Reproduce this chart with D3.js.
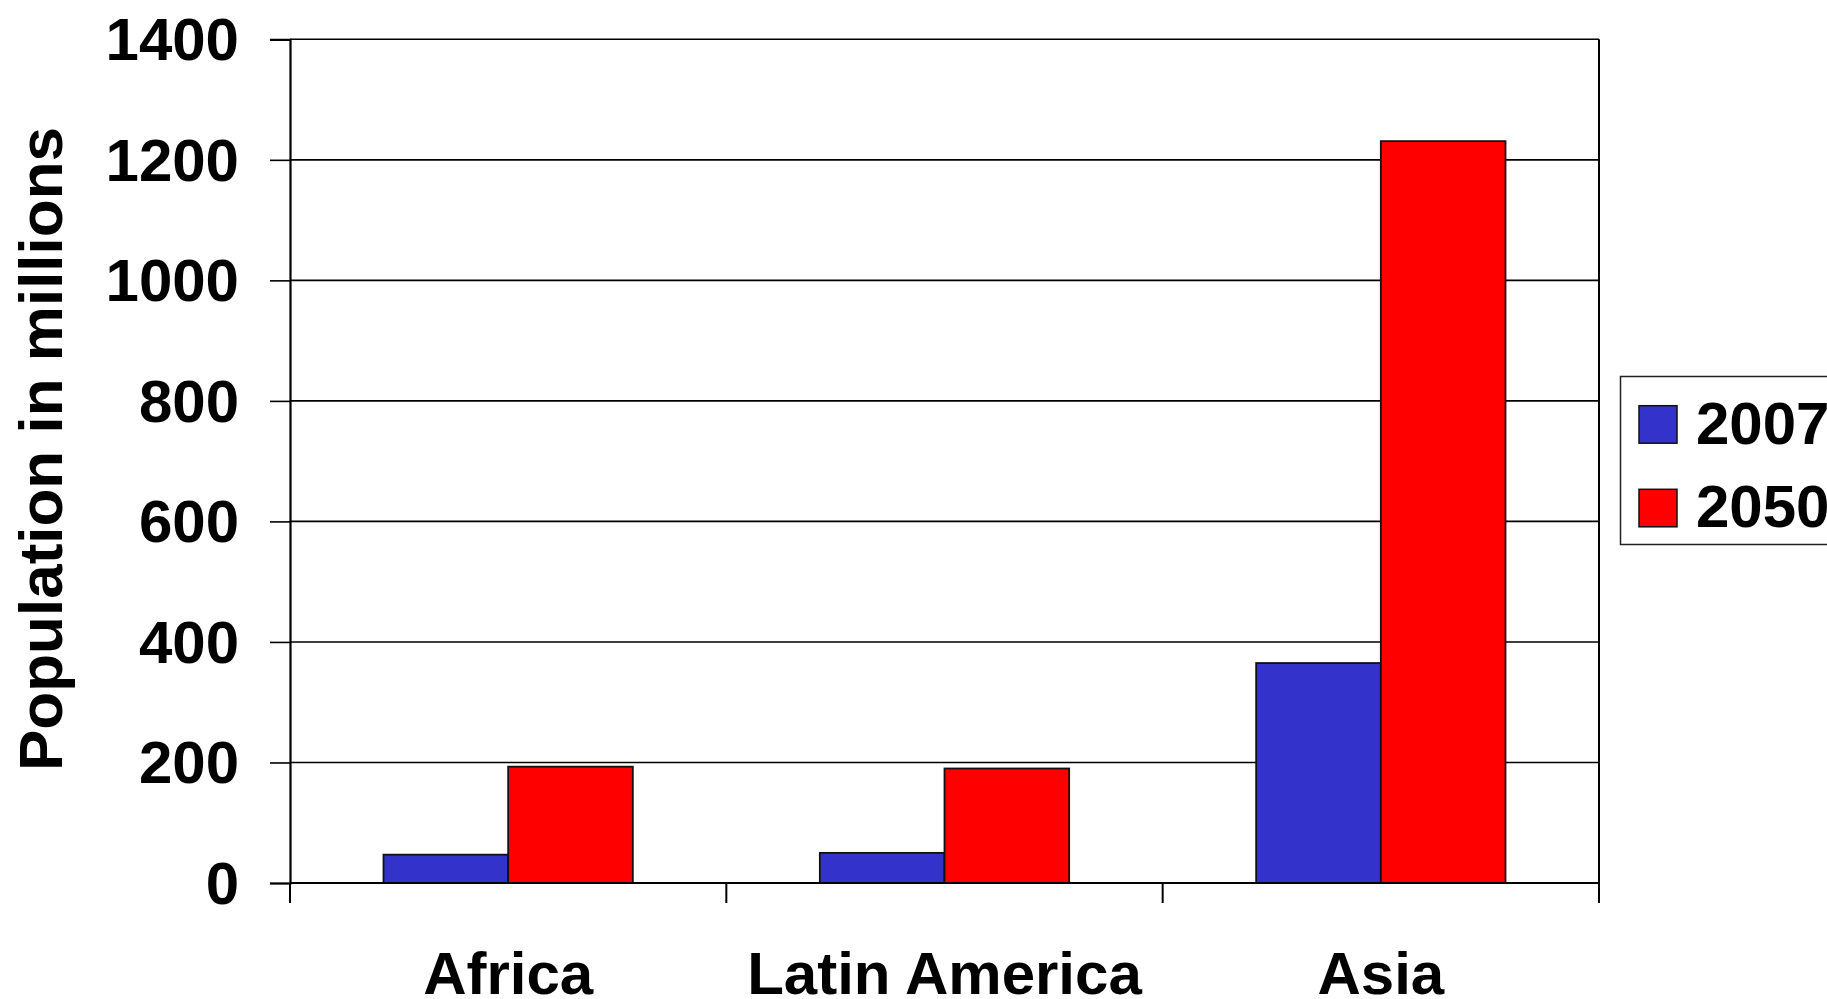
<!DOCTYPE html>
<html>
<head>
<meta charset="utf-8">
<script src="https://cdn.jsdelivr.net/npm/d3@7"></script>
<style>
  html, body { margin: 0; padding: 0; background: #fff; }
  svg { display: block; }
  text { font-family: "Liberation Sans", Arial, sans-serif; font-weight: bold; fill: #000; }
</style>
</head>
<body>
<svg id="chart" width="1827" height="999"></svg>
<script>
// Population (millions) by region
const categories = ["Africa", "Latin America", "Asia"];
const series = ["2007", "2050"];
const values2007 = [47, 50, 365];
const values2050 = [193, 190, 1231];
const yTicks = [0, 200, 400, 600, 800, 1000, 1200, 1400];
const colors = ["#3333CC", "#FF0000"];
const yTitle = "Population in millions";

const svg = d3.select("#chart");
const plot = { left: 290, right: 1599, top: 39.3, bottom: 883 };

const x0 = d3.scaleBand().domain(categories).range([plot.left, plot.right]).padding(0);
const x1 = d3.scaleBand().domain(series).range([0, x0.bandwidth()]).paddingInner(0).paddingOuter(0.75);
const y = d3.scaleLinear().domain([0, 1400]).range([plot.bottom, plot.top]);

const rows = categories.map((c, i) => ({ cat: c, vals: [values2007[i], values2050[i]] }));

// horizontal gridlines
svg.append("g")
  .selectAll("line")
  .data(yTicks.filter(d => d > 0))
  .join("line")
  .attr("x1", plot.left).attr("x2", plot.right)
  .attr("y1", d => y(d)).attr("y2", d => y(d))
  .attr("stroke", "#000").attr("stroke-width", 1.6);

// right border of the plot area
svg.append("line")
  .attr("x1", plot.right).attr("x2", plot.right)
  .attr("y1", plot.top).attr("y2", plot.bottom)
  .attr("stroke", "#000").attr("stroke-width", 2);

// bars
const groups = svg.append("g").selectAll("g")
  .data(rows)
  .join("g")
  .attr("transform", d => `translate(${x0(d.cat)},0)`);

groups.selectAll("rect")
  .data(d => d.vals.map((v, j) => ({ s: series[j], v, j })))
  .join("rect")
  .attr("x", d => x1(d.s))
  .attr("width", x1.bandwidth())
  .attr("y", d => y(d.v))
  .attr("height", d => y(0) - y(d.v))
  .attr("fill", d => colors[d.j])
  .attr("stroke", "#111").attr("stroke-width", 1.8);

// y axis
const yAxis = svg.append("g")
  .attr("transform", `translate(${plot.left},0)`)
  .call(d3.axisLeft(y).tickValues(yTicks).tickSize(20).tickPadding(31).tickFormat(d3.format("d")));
yAxis.select(".domain").attr("stroke", "#000").attr("stroke-width", 2.2);
yAxis.selectAll(".tick line").attr("stroke", "#000").attr("stroke-width", 1.6);
yAxis.selectAll(".tick text")
  .attr("font-family", "Liberation Sans, Arial, sans-serif")
  .attr("font-weight", "bold")
  .attr("font-size", 60)
  .attr("fill", "#000")
  .attr("dy", null)
  .attr("dominant-baseline", "central");

// x axis: baseline plus boundary ticks between categories
const xBounds = categories.map(c => x0(c)).concat([x0.range()[1]]);
const xAxis = svg.append("g");
xAxis.append("line")
  .attr("x1", plot.left).attr("x2", plot.right)
  .attr("y1", y(0)).attr("y2", y(0))
  .attr("stroke", "#000").attr("stroke-width", 2.2);
xAxis.selectAll("line.tk")
  .data(xBounds)
  .join("line").attr("class", "tk")
  .attr("x1", d => d).attr("x2", d => d)
  .attr("y1", y(0)).attr("y2", y(0) + 20)
  .attr("stroke", "#000").attr("stroke-width", 2);
xAxis.selectAll("text")
  .data(categories)
  .join("text")
  .attr("x", d => x0(d) + x0.bandwidth() / 2)
  .attr("y", 994)
  .attr("text-anchor", "middle")
  .attr("font-size", 60)
  .text(d => d);

// y axis title
svg.append("text")
  .attr("transform", "translate(62,449) rotate(-90)")
  .attr("text-anchor", "middle")
  .attr("font-size", 62)
  .text(yTitle);

// legend
const legend = svg.append("g");
legend.append("rect")
  .attr("x", 1620.5).attr("y", 376.5)
  .attr("width", 260).attr("height", 168)
  .attr("fill", "#fff").attr("stroke", "#222").attr("stroke-width", 1.5);
const items = legend.selectAll("g")
  .data(series)
  .join("g")
  .attr("transform", (d, i) => `translate(1639,${405.7 + i * 83.6})`);
items.append("rect")
  .attr("width", 38).attr("height", 37.5)
  .attr("fill", (d, i) => colors[i])
  .attr("stroke", "#111").attr("stroke-width", 1.5);
items.append("text")
  .attr("x", 57).attr("y", 38)
  .attr("font-size", 60)
  .text(d => d);
</script>
</body>
</html>
